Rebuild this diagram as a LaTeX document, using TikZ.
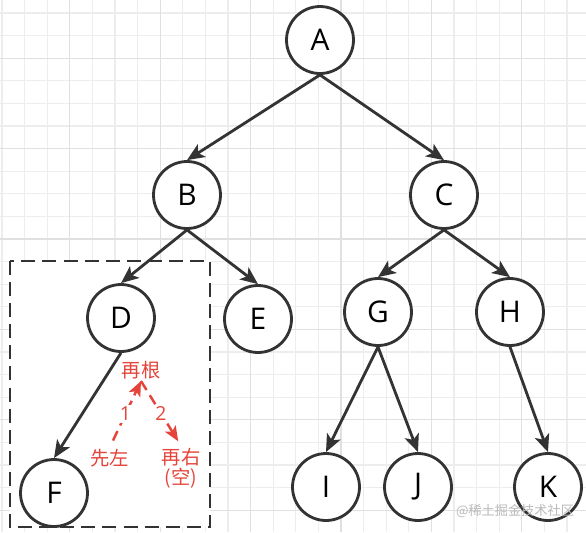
\documentclass[tikz,border=0pt]{standalone}
\usepackage{fontspec}
\setmainfont{Open Sans}
\newfontfamily\cjk{Noto Sans CJK SC}
\usetikzlibrary{arrows.meta}

\definecolor{ink}{HTML}{333333}
\definecolor{notered}{HTML}{E5443A}
\definecolor{gridminor}{HTML}{EDEDED}
\definecolor{gridmajor}{HTML}{E0E0E0}

\begin{document}
\begin{tikzpicture}[
  x=0.02cm, y=-0.02cm,
  tnode/.style={draw=ink, fill=white, circle, line width=1.6pt, minimum size=1.34cm, inner sep=0pt, font=\fontsize{17}{20}\selectfont},
  arr/.style={draw=ink, line width=1.6pt, -{Stealth[length=10pt, width=8.5pt, inset=2.5pt]}},
  note/.style={text=notered, inner sep=1pt, align=center, font=\cjk\fontsize{11}{11.5}\selectfont},
  redarr/.style={draw=notered, line width=1.4pt, dash pattern=on 6pt off 3.5pt, -{Stealth[length=8.5pt, width=7pt, inset=2pt]}},
  box/.style={draw=ink, fill=white, line width=1.6pt, dash pattern=on 8pt off 4pt}
  ]
\useasboundingbox (0,0) rectangle (586,532);
\fill[white] (0,0) rectangle (586,532);

% grid
\foreach \k in {0,...,25}
  \draw[gridminor, line width=0.7pt] (2+22.6*\k,0) -- (2+22.6*\k,532);
\foreach \k in {1,...,23}
  \draw[gridminor, line width=0.7pt] (0,-9.6+22.6*\k) -- (586,-9.6+22.6*\k);
\foreach \k in {3,7,...,23}
  \draw[gridmajor, line width=0.7pt] (2+22.6*\k,0) -- (2+22.6*\k,532);
\foreach \k in {3,7,...,23}
  \draw[gridmajor, line width=0.7pt] (0,-9.6+22.6*\k) -- (586,-9.6+22.6*\k);

% subtree of D
\draw[box] (10,261) rectangle (210,527);

% nodes
\node[tnode] (A) at (320,40) {A};
\node[tnode] (B) at (187,195) {B};
\node[tnode] (C) at (444,195) {C};
\node[tnode] (D) at (121,318) {D};
\node[tnode] (E) at (258,319) {E};
\node[tnode] (G) at (378,312) {G};
\node[tnode] (H) at (510,312) {H};
\node[tnode] (F) at (54,493) {F};
\node[tnode] (I) at (326,487) {I};
\node[tnode] (J) at (418,487) {J};
\node[tnode] (K) at (548,487) {K};

% edges
\draw[arr] (A.south) -- (B.north);
\draw[arr] (A.south) -- (C.north);
\draw[arr] (B.south) -- (D.north);
\draw[arr] (B.south) -- (E.north);
\draw[arr] (C.south) -- (G.north);
\draw[arr] (C.south) -- (H.north);
\draw[arr] (D.south) -- (F.north);
\draw[arr] (G.south) -- (I.north);
\draw[arr] (G.south) -- (J.north);
\draw[arr] (H.south) -- (K.north);

% order notes
\node[note] (root) at (141,370) {再根};
\node[note] (left) at (110,458) {先左};
\node[note] (right) at (181,468) {再右\\(空)};
\draw[redarr, shorten <=4pt] (left.north) -- node[midway, fill=white, inner sep=1pt, font=\fontsize{11}{12}\selectfont, text=notered] {1} (root.south);
\draw[redarr, shorten >=3pt] (root.south) -- node[midway, fill=white, inner sep=1pt, font=\fontsize{11}{12}\selectfont, text=notered] {2} (right.north);

\node[text=gray!55, font=\cjk\fontsize{7.5}{9}\selectfont] (mark) at (515,511) {@稀土掘金技术社区};
\end{tikzpicture}
\end{document}
